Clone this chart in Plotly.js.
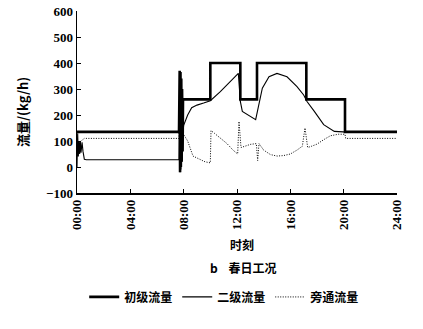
<!DOCTYPE html>
<html><head><meta charset="utf-8">
<script src="https://cdn.plot.ly/plotly-3.0.1.min.js"></script>
<style>html,body{margin:0;padding:0;background:#fff}#c{width:423px;height:329px}</style>
</head><body><div id="c"></div>
<script>
// Time in hours (0-24) and flow in kg/h
const primaryT = [0,7.65,7.7,7.73,7.76,7.79,7.82,7.85,7.88,7.92,7.95,8.1,10.0,10.0,12.25,12.25,13.5,13.5,17.2,17.2,20.1,20.1,24];
const primaryV = [135,135,370,-20,365,0,340,20,300,60,260,260,260,400,400,260,260,400,400,260,260,135,135];

const secondaryT = [0,0.05,0.1,0.15,0.2,0.25,0.3,0.38,0.45,0.55,0.7,7.65,7.7,7.73,7.76,7.79,7.82,7.86,7.9,8.0,8.3,8.6,9.0,9.5,10.0,10.75,11.7,12.1,12.25,12.4,13.4,13.6,13.9,14.4,15.0,15.75,16.5,17.0,17.25,17.8,18.5,19.3,20.3,24];
const secondaryV = [0,130,40,100,50,100,55,95,60,30,28,28,200,-20,250,-10,180,20,120,160,200,228,238,246,255,290,341,360,252,214,182,230,303,347,360,347,309,277,252,214,163,137,134,134];

const bypassT = [0.05,0.3,0.55,7.65,7.7,7.75,7.8,7.85,7.9,8.0,8.3,8.7,9.2,9.6,10.0,10.05,10.3,10.8,11.25,11.7,12.05,12.15,12.3,12.6,13.0,13.45,13.55,13.65,14.0,14.5,15.0,15.5,16.0,16.5,16.9,17.1,17.3,17.6,18.0,18.5,19.0,19.6,20.1,20.15,24];
const bypassV = [90,100,110,110,250,20,150,60,120,125,100,42,28,20,16,140,130,110,90,65,50,175,75,80,87,90,25,90,65,48,42,44,50,65,80,150,75,80,88,105,120,126,126,110,110];

const tickVals = [0,4,8,12,16,20,24];
const tickText = ['00:00','04:00','08:00','12:00','16:00','20:00','24:00'];
const seriesNames = ['初级流量','二级流量','旁通流量'];

const serif = 'Liberation Serif, DejaVu Serif, serif';
const cjk = 'Noto Sans CJK SC, sans-serif';

const traces = [
  {x: primaryT, y: primaryV, name: seriesNames[0], mode:'lines', line:{color:'#000', width:2.6}},
  {x: secondaryT, y: secondaryV, name: seriesNames[1], mode:'lines', line:{color:'#000', width:1.1}},
  {x: bypassT, y: bypassV, name: seriesNames[2], mode:'lines', line:{color:'#000', width:1, dash:'1px,1.5px'}}
];

const layout = {
  width:423, height:329,
  margin:{l:77, r:26, t:11, b:136},
  paper_bgcolor:'#fff', plot_bgcolor:'#fff',
  showlegend:true,
  legend:{orientation:'h', x:0.46, xanchor:'center', y:-0.571, yanchor:'middle',
          font:{family:cjk, size:12, color:'#000', weight:'bold'}, itemwidth:30, tracegroupgap:0},
  xaxis:{range:[0,24], tickvals:tickVals, ticktext:tickText, tickangle:-90,
         showgrid:false, zeroline:false, showline:true, linecolor:'#000', linewidth:1.5,
         ticks:'inside', ticklen:4, tickcolor:'#000',
         tickfont:{family:serif, size:13, color:'#000', weight:'bold'}},
  yaxis:{range:[-100,600], dtick:100, showgrid:false, zeroline:false, showline:true,
         linecolor:'#000', linewidth:1.5, ticks:'inside', ticklen:4, tickcolor:'#000',
         tickfont:{family:serif, size:13, color:'#000', weight:'bold'}},
  annotations:[
    {text:'流量/(kg/h)', textangle:-90, xref:'paper', yref:'paper', x:(22-77)/320, y:(193-112)/182,
     showarrow:false, font:{family:cjk, size:13, color:'#000', weight:'bold'}, xanchor:'center', yanchor:'middle'},
    {text:'时刻', xref:'paper', yref:'paper', x:(242-77)/320, y:(193-245)/182,
     showarrow:false, font:{family:cjk, size:12, color:'#000', weight:'bold'}, xanchor:'center', yanchor:'middle'},
    {text:'b&nbsp;&nbsp;&nbsp;&nbsp;春日工况', xref:'paper', yref:'paper', x:(243-77)/320, y:(193-267)/182,
     showarrow:false, font:{family:cjk, size:12, color:'#000', weight:'bold'}, xanchor:'center', yanchor:'middle'}
  ]
};

Plotly.newPlot('c', traces, layout, {staticPlot:true, displayModeBar:false});
</script></body></html>
